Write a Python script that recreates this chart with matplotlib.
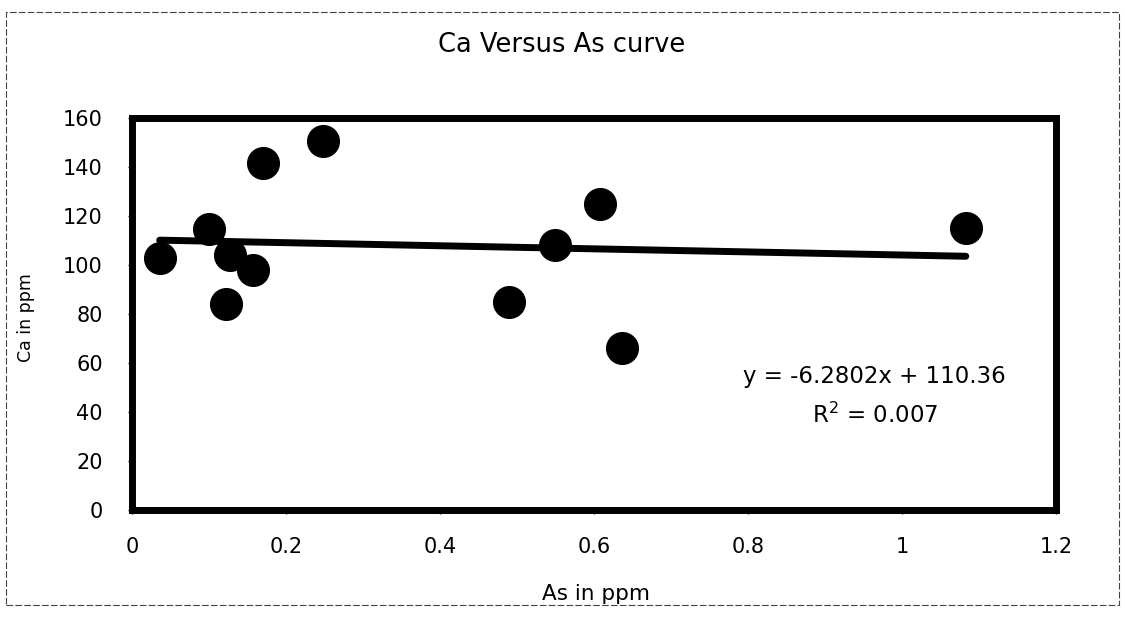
import matplotlib.pyplot as plt
import numpy as np
from matplotlib.patches import Rectangle

# As / Ca concentrations (ppm)
as_ppm = [0.036, 0.100, 0.127, 0.157, 0.122, 0.170, 0.248, 0.490, 0.550, 0.608, 0.637, 1.083]
ca_ppm = [102.7, 114.6, 104.1, 98.0, 84.1, 141.8, 150.7, 85.0, 108.0, 125.0, 66.0, 115.0]

# linear trendline as reported
slope = -6.2802
intercept = 110.36
r2 = 0.007

x_ticks = [0, 0.2, 0.4, 0.6, 0.8, 1, 1.2]
x_tick_labels = ['0', '0.2', '0.4', '0.6', '0.8', '1', '1.2']
y_ticks = [0, 20, 40, 60, 80, 100, 120, 140, 160]

plt.rcParams['font.family'] = ['DejaVu Sans']

fig = plt.figure(figsize=(11.25, 6.22), dpi=100)
ax = fig.add_axes([0.1173, 0.1801, 0.8213, 0.6302])

ax.scatter(as_ppm, ca_ppm, s=520, color='black', zorder=3)

xt = np.array([min(as_ppm), max(as_ppm)])
ax.plot(xt, slope * xt + intercept, color='black', lw=5, solid_capstyle='round', zorder=2)

ax.set_xlim(0, 1.2)
ax.set_ylim(0, 160)
ax.set_xticks(x_ticks)
ax.set_xticklabels(x_tick_labels)
ax.set_yticks(y_ticks)
ax.tick_params(labelsize=15, length=3, width=1)
ax.tick_params(axis='x', pad=16.4)
ax.tick_params(axis='y', pad=18)
for s in ax.spines.values():
    s.set_linewidth(5)

fig.text(0.777, 0.384, 'y = -6.2802x + 110.36', ha='center', va='baseline', fontsize=16.5)
fig.text(0.778, 0.32, 'R$^2$ = {}'.format(r2), ha='center', va='baseline', fontsize=16.5)

fig.text(0.499, 0.9164, 'Ca Versus As curve', ha='center', va='baseline', fontsize=18.5)
fig.text(0.53, 0.035, 'As in ppm', ha='center', va='baseline', fontsize=15.5)
fig.text(0.023, 0.489, 'Ca in ppm', ha='center', va='center', rotation=90, fontsize=12.5)

# outer chart border
fig.patches.append(Rectangle((0.005, 0.028), 0.99, 0.953, transform=fig.transFigure,
                             fill=False, edgecolor='#444444', lw=0.8, ls=(0, (6, 2))))

plt.savefig('out.png', dpi=100)
